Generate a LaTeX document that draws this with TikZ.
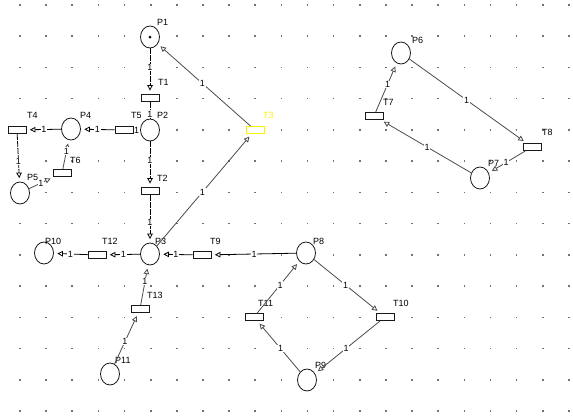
\documentclass[tikz,border=0pt]{standalone}
\usepackage{fontspec}
\setmainfont{Liberation Sans}
\usetikzlibrary{arrows.meta,shapes.geometric,calc}
\newcommand\warc[3][]{\draw[arc,#1] (#2) -- (#3); \node[wt] at ($(#2)!0.5!(#3)$) {1};}
\begin{document}
\begin{tikzpicture}[x=1pt,y=-1pt,
  place/.style={ellipse,draw=black!90,line width=0.8pt,fill=white,minimum width=19pt,minimum height=22pt,inner sep=0pt},
  trans/.style={rectangle,draw=black!90,line width=0.8pt,fill=white,minimum width=18pt,minimum height=7pt,inner sep=0pt},
  arc/.style={draw=black,line width=0.8pt,-{Triangle[open,length=5.5pt,width=5.5pt]},shorten >=3.5pt},
  vert/.style={dash pattern=on 6pt off 1pt},
  diag/.style={draw=black!70},
  wt/.style={fill=white,inner sep=0.6pt,font=\fontsize{9}{10}\selectfont},
  lab/.style={anchor=west,inner sep=0pt,text=black,font=\fontsize{9}{10}\selectfont}]
\useasboundingbox (0,0) rectangle (573,418);
\fill[white] (0,0) rectangle (573,418);
% grid
\foreach \i in {0,...,21}{\foreach \j in {0,...,13}{
  \fill[black!55] ({20+26.14*\i-0.8},{5+31.23*\j-0.8}) rectangle ++(1.6,1.6);}}
% places
\node[place] (P1) at (150,37) {};
\fill (P1.center) circle (1.5);
\node[place] (P2) at (150,130) {};
\node[place] (P4) at (71,129) {};
\node[place] (P5) at (20,193) {};
\node[place] (P3) at (150,254) {};
\node[place] (P10) at (44,253) {};
\node[place] (P8) at (306,253) {};
\node[place] (P11) at (110,374) {};
\node[place] (P9) at (307,380) {};
\node[place] (P6) at (401,53) {};
\node[place] (P7) at (480,178) {};
% transitions
\node[trans] (T1) at (150,98) {};
\node[trans] (T5) at (124,130) {};
\node[trans] (T4) at (17,130) {};
\node[trans] (T6) at (62,173) {};
\node[trans] (T2) at (150,191) {};
\node[trans,draw=yellow] (T3) at (255,130) {};
\node[trans] (T12) at (97,255) {};
\node[trans] (T9) at (202,255) {};
\node[trans] (T13) at (140,309) {};
\node[trans] (T11) at (254,317) {};
\node[trans] (T10) at (385,317) {};
\node[trans] (T7) at (374,116) {};
\node[trans] (T8) at (532,147) {};
% labels
\node[lab] at (157,22) {P1};
\node[lab] at (158,82) {T1};
\node[lab] at (131,115) {T5};
\node[lab] at (157,115) {P2};
\node[lab] at (80,115) {P4};
\node[lab] at (27,115) {T4};
\node[lab] at (70,160) {T6};
\node[lab] at (27,177) {P5};
\node[lab] at (157,178) {T2};
\node[lab] at (155,241) {P3};
\node[lab,text=yellow] at (263,115) {T3};
\node[lab] at (102,241) {T12};
\node[lab] at (45,241) {P10};
\node[lab] at (210,241) {T9};
\node[lab] at (313,241) {P8};
\node[lab] at (147,295) {T13};
\node[lab] at (115,360) {P11};
\node[lab] at (258,303) {T11};
\node[lab] at (393,303) {T10};
\node[lab] at (315,365) {P9};
\node[lab] at (412,40) {P6};
\node[lab] at (383,102) {T7};
\node[lab] at (542,132) {T8};
\node[lab] at (488,163) {P7};
% arcs
\warc[vert]{P1}{T1}
\draw[draw=black,line width=0.8pt,vert] (T1) -- (P2);
\node[wt] at ($(T1)!0.5!(P2)$) {1};
\node[wt] at ($(T5.east)!0.5!(P2.west)$) {1};
\warc{T5}{P4}
\warc{P4}{T4}
\warc[vert]{T4}{P5}
\warc[diag]{P5}{T6}
\warc[diag]{T6}{P4}
\warc[vert]{P2}{T2}
\warc[vert]{T2}{P3}
\warc[diag]{P3}{T3}
\warc[diag]{T3}{P1}
\warc{P3}{T12}
\warc{T12}{P10}
\warc{T9}{P3}
\warc{P8}{T9}
\warc[diag]{T13}{P3}
\warc[diag]{P11}{T13}
\warc[diag]{P8}{T10}
\warc[diag]{T10}{P9}
\warc[diag]{P9}{T11}
\warc[diag]{T11}{P8}
\warc[diag]{T7}{P6}
\warc[diag]{P6}{T8}
\warc[diag]{T8}{P7}
\warc[diag]{P7}{T7}
\end{tikzpicture}
\end{document}
